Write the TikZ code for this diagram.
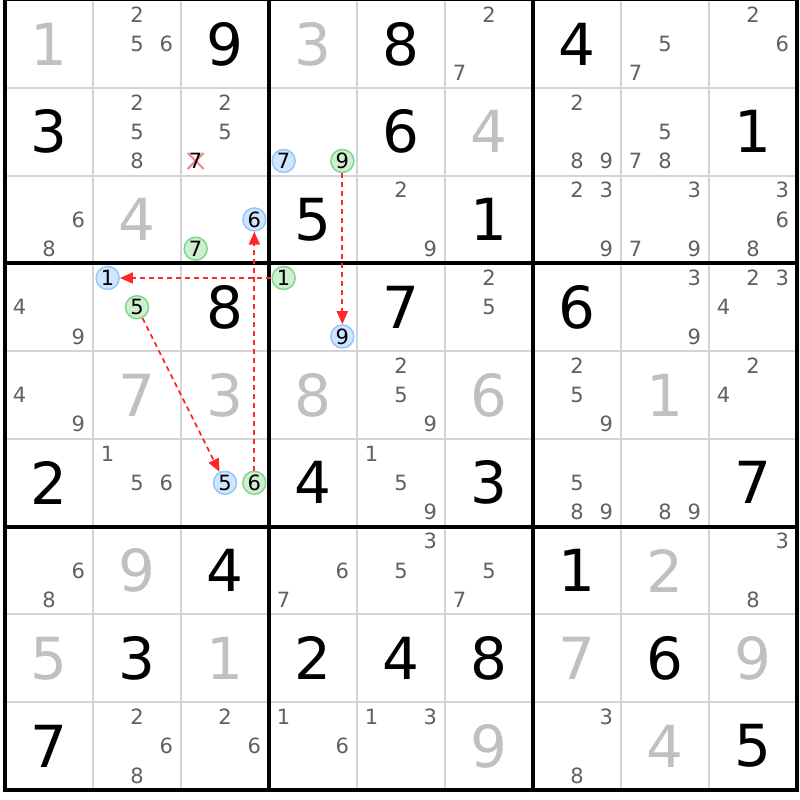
\documentclass[tikz,border=0pt]{standalone}
\usepackage{fontspec}
\setmainfont{DejaVu Sans}
\usepackage{tikz}
\usetikzlibrary{arrows.meta}
\definecolor{gridgray}{RGB}{212,212,212}
\definecolor{solvedgray}{RGB}{192,192,192}
\definecolor{candgray}{RGB}{96,96,96}
\definecolor{onfill}{RGB}{208,230,255}
\definecolor{onedge}{RGB}{150,198,250}
\definecolor{offfill}{RGB}{206,240,208}
\definecolor{offedge}{RGB}{128,214,140}
\definecolor{linkred}{RGB}{255,40,40}
\definecolor{strikered}{RGB}{244,130,140}
\tikzstyle{digit} = [inner sep=0pt, font=\fontsize{29}{29}\selectfont]
\tikzstyle{given} = [digit, text=black]
\tikzstyle{solved} = [digit, text=solvedgray]
\tikzstyle{cand} = [inner sep=0pt, text=candgray, font=\fontsize{10.5}{10}\selectfont]
\tikzstyle{cand on} = [cand, circle, draw=onedge, fill=onfill, text=black,
line width=0.75pt, minimum size=11.5pt]
\tikzstyle{cand off} = [cand on, draw=offedge, fill=offfill]
\tikzstyle{link} = [draw=linkred, line width=0.9pt, dash pattern=on 2.5pt off 2pt,
-{Triangle[length=6.5pt,width=5.5pt]}]
\tikzstyle{thin rule} = [draw=gridgray, line width=1pt]
\tikzstyle{box rule} = [draw=black, line width=2pt]
\tikzstyle{strike} = [draw=strikered, line width=1pt]
\tikzset{declare function={colx(\x)=5+88*(\x-1); rowy(\x)=87.78*(\x-1);
candx(\x,\y)=colx(\x)+14.67+29.33*mod(\y-1,3);
candy(\x,\y)=rowy(\x)+14.63+29.26*int((\y-1)/3);}}
\newcommand{\chainlink}[2]{ %
  % Dashed arrow from all nodes #1 to all nodes #2.
  \foreach \from in {#1} { %
    \foreach \to in {#2} { %
      \path (\from) edge [link] (\to) ;%
    } ;
  } ;
}

\begin{document}
\begin{tikzpicture}[x=0.5pt, y=-0.5pt]
  \useasboundingbox (0,0) rectangle (800,800);
  \foreach \i in {1,...,8} {
    \draw[thin rule] ({colx(\i+1)},0) -- ({colx(\i+1)},790);
    \draw[thin rule] (5,{rowy(\i+1)}) -- (797,{rowy(\i+1)});
  }
  \foreach \i in {4,7} {
    \draw[box rule] ({colx(\i)},0) -- ({colx(\i)},790);
    \draw[box rule] (5,{rowy(\i)}) -- (797,{rowy(\i)});
  }
  \draw[box rule] (5,-1.5) rectangle (797,790);
  \draw[strike] ({candx(3,7)-8},{candy(2,7)-8}) -- ({candx(3,7)+8},{candy(2,7)+8});
  \draw[strike] ({candx(3,7)-8},{candy(2,7)+8}) -- ({candx(3,7)+8},{candy(2,7)-8});
  \foreach \row/\col/\dg in {1/3/9, 1/5/8, 1/7/4, 2/1/3, 2/5/6, 2/9/1, 3/4/5, 3/6/1,
    4/3/8, 4/5/7, 4/7/6, 6/1/2, 6/4/4, 6/6/3, 6/9/7, 7/3/4, 7/7/1, 8/2/3, 8/4/2,
    8/5/4, 8/6/8, 8/8/6, 9/1/7, 9/9/5}
    \node[given](g\row\col) at ({colx(\col)+44},{rowy(\row)+43.89}) {\dg};
  \foreach \row/\col/\dg in {1/1/1, 1/4/3, 2/6/4, 3/2/4, 5/2/7, 5/3/3, 5/4/8, 5/6/6,
    5/8/1, 7/2/9, 7/8/2, 8/1/5, 8/3/1, 8/7/7, 8/9/9, 9/6/9, 9/8/4}
    \node[solved](s\row\col) at ({colx(\col)+44},{rowy(\row)+43.89}) {\dg};
  \foreach \row/\col/\dg in {1/2/2, 1/2/5, 1/2/6, 1/6/2, 1/6/7, 1/8/5, 1/8/7, 1/9/2,
    1/9/6, 2/2/2, 2/2/5, 2/2/8, 2/3/2, 2/3/5, 2/7/2, 2/7/8, 2/7/9, 2/8/5, 2/8/7,
    2/8/8, 3/1/6, 3/1/8, 3/5/2, 3/5/9, 3/7/2, 3/7/3, 3/7/9, 3/8/3, 3/8/7, 3/8/9,
    3/9/3, 3/9/6, 3/9/8, 4/1/4, 4/1/9, 4/6/2, 4/6/5, 4/8/3, 4/8/9, 4/9/2, 4/9/3,
    4/9/4, 5/1/4, 5/1/9, 5/5/2, 5/5/5, 5/5/9, 5/7/2, 5/7/5, 5/7/9, 5/9/2, 5/9/4,
    6/2/1, 6/2/5, 6/2/6, 6/5/1, 6/5/5, 6/5/9, 6/7/5, 6/7/8, 6/7/9, 6/8/8, 6/8/9,
    7/1/6, 7/1/8, 7/4/6, 7/4/7, 7/5/3, 7/5/5, 7/6/5, 7/6/7, 7/9/3, 7/9/8, 9/2/2,
    9/2/6, 9/2/8, 9/3/2, 9/3/6, 9/4/1, 9/4/6, 9/5/1, 9/5/3, 9/7/3, 9/7/8}
    \node[cand](n\row\col\dg) at ({candx(\col,\dg)},{candy(\row,\dg)}) {\dg};
  \node[cand, text=black](n237) at ({candx(3,7)},{candy(2,7)}) {7};
  \foreach \row/\col/\dg in {2/4/7, 3/3/6, 4/2/1, 4/4/9, 6/3/5}
    \node[cand on](n\row\col\dg) at ({candx(\col,\dg)},{candy(\row,\dg)}) {\dg};
  \foreach \row/\col/\dg in {2/4/9, 3/3/7, 4/2/5, 4/4/1, 6/3/6}
    \node[cand off](n\row\col\dg) at ({candx(\col,\dg)},{candy(\row,\dg)}) {\dg};
  \chainlink{n249}{n449};
  \chainlink{n441}{n421};
  \chainlink{n425}{n635};
  \chainlink{n636}{n336};
\end{tikzpicture}
\end{document}
